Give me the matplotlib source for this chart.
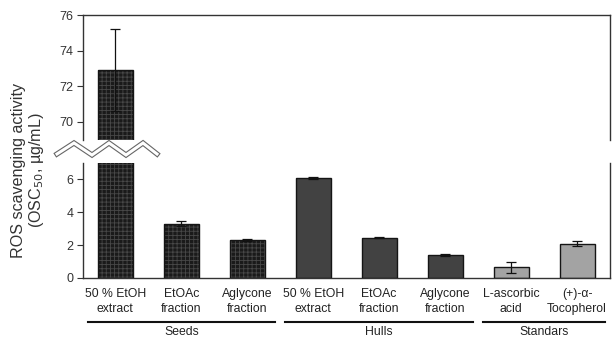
import matplotlib
matplotlib.use("Agg")
import matplotlib.pyplot as plt
import numpy as np
from matplotlib.transforms import blended_transform_factory

plt.rcParams['font.family'] = ['Liberation Sans', 'DejaVu Sans']
plt.rcParams['hatch.linewidth'] = 0.6

line1 = ["50 % EtOH", "EtOAc", "Aglycone", "50 % EtOH", "EtOAc", "Aglycone", "L-ascorbic", "(+)-α-"]
line2 = ["extract", "fraction", "fraction", "extract", "fraction", "fraction", "acid", "Tocopherol"]
values = [72.9, 3.3, 2.3, 6.1, 2.45, 1.4, 0.65, 2.1]
errors = [2.3, 0.15, 0.05, 0.05, 0.04, 0.08, 0.35, 0.15]
groups = ["Seeds", "Hulls", "Standars"]
group_members = [[0, 1, 2], [3, 4, 5], [6, 7]]
group_colors = ["#1a1a1a", "#424242", "#a3a3a3"]
group_hatch = ["++++", None, None]

W, H = 612, 339
fig = plt.figure(figsize=(W / 100, H / 100), dpi=100)

def px_axes(x0, y0, x1, y1):
    return fig.add_axes([x0 / W, 1 - y1 / H, (x1 - x0) / W, (y1 - y0) / H])

ax_top = px_axes(83, 15, 610, 139.5)
ax_bot = px_axes(83, 163, 610, 278)

x = np.arange(len(values))
width = 0.53
col, hat = [], []
for g, members in enumerate(group_members):
    for m in members:
        col.append(group_colors[g])
        hat.append(group_hatch[g])

spine_c = "#333333"
for ax in (ax_top, ax_bot):
    for i in x:
        if hat[i]:
            ax.bar(i, values[i], width, color=col[i], edgecolor="#484848", hatch=hat[i], linewidth=0, zorder=2)
        else:
            ax.bar(i, values[i], width, color=col[i], linewidth=0, zorder=2)
    ax.bar(x, values, width, fill=False, edgecolor="#151515", linewidth=1.0, zorder=3)
    ax.errorbar(x, values, yerr=errors, fmt="none", ecolor="#111111", elinewidth=0.9, capsize=3.5, capthick=0.9, zorder=4)
    ax.set_xlim(-0.49, 7.5)
    ax.set_xticks([])
    for s in ax.spines.values():
        s.set_color(spine_c)
        s.set_linewidth(1.0)
    ax.tick_params(axis="y", direction="out", length=4, width=0.8, color=spine_c, labelsize=9, labelcolor="#333333", pad=3)

ax_top.set_ylim(69, 76)
ax_top.set_yticks([70, 72, 74, 76])
ax_top.spines["bottom"].set_visible(False)
ax_bot.set_ylim(0, 7)
ax_bot.set_yticks([0, 2, 4, 6])
ax_bot.spines["top"].set_visible(False)

# break zigzag
zx = np.array([57, 74, 92, 109, 126, 143, 157])
zy = np.array([154, 143, 155, 143, 155, 143, 154])
fx = zx / W
fy = 1 - zy / H
fig.add_artist(plt.Line2D(fx, fy, transform=fig.transFigure, color="#666666", linewidth=3.8, solid_joinstyle="miter", zorder=10))
fig.add_artist(plt.Line2D(fx, fy, transform=fig.transFigure, color="white", linewidth=2.2, solid_joinstyle="miter", zorder=11))

# category labels
tr = blended_transform_factory(ax_bot.transData, fig.transFigure)
for i in x:
    ax_bot.text(i, 1 - 294 / H, line1[i], transform=tr, ha="center", va="center", fontsize=8.8, color="#222222")
    ax_bot.text(i, 1 - 309 / H, line2[i], transform=tr, ha="center", va="center", fontsize=8.8, color="#222222")

for g, members in enumerate(group_members):
    x0 = members[0] - 0.42
    x1 = min(members[-1] + 0.42, 7.5)
    ax_bot.plot([x0, x1], [1 - 322 / H] * 2, transform=tr, color="#111111", linewidth=1.5, clip_on=False)
    ax_bot.text((members[0] + members[-1]) / 2, 1 - 332 / H, groups[g], transform=tr, ha="center", va="center", fontsize=8.8, color="#222222")

fig.text(19 / W, 1 - 170 / H, "ROS scavenging activity", rotation=90, ha="center", va="center", fontsize=11.6, color="#333333")
fig.text(37 / W, 1 - 170 / H, "(OSC$_{50}$, µg/mL)", rotation=90, ha="center", va="center", fontsize=11.6, color="#333333")

fig.savefig("out.png", dpi=100)
